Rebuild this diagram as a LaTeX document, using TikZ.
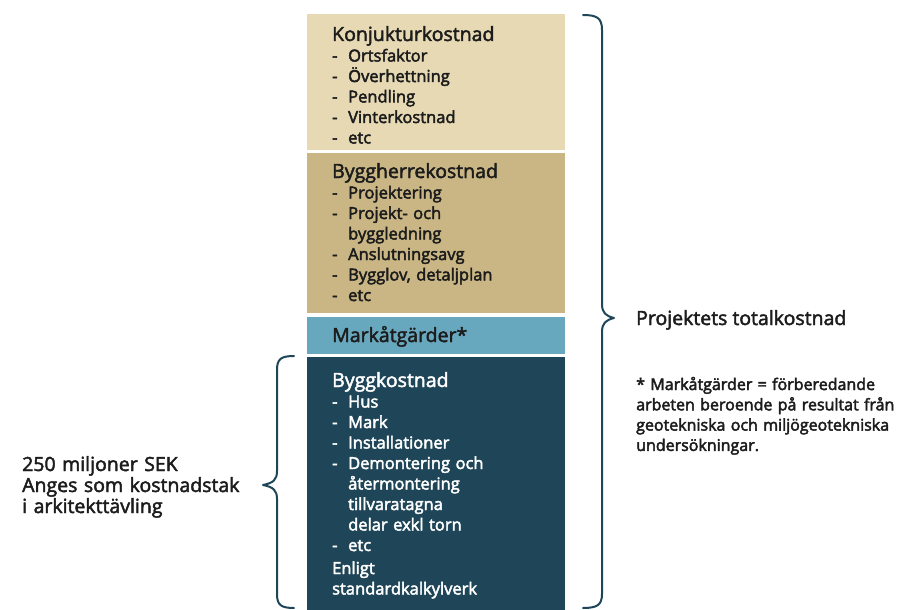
\documentclass[tikz,border=0pt]{standalone}
\usepackage{fontspec}
\setmainfont{Open Sans}
\definecolor{beigeA}{HTML}{E6D9B4}
\definecolor{beigeB}{HTML}{C9B684}
\definecolor{lblue}{HTML}{68A8BE}
\definecolor{dteal}{HTML}{1F4658}
\definecolor{txt}{HTML}{1C1C1C}
\newcommand{\medon}{\special{pdf:literal direct 2 Tr 0.45 w}}
\newcommand{\medoff}{\special{pdf:literal direct 0 Tr}}
\newcommand{\myitem}[1]{\makebox[16pt][l]{-}#1}
\newcommand{\mycont}[1]{\hspace*{16pt}#1}
\newcommand{\hd}[1]{{\fontsize{19.5}{20.5}\selectfont #1}}
\begin{document}
\begin{tikzpicture}[x=1pt,y=-1pt,
  box/.style={draw=none,minimum width=258pt,inner sep=0pt,outer sep=0pt},
  blk/.style={anchor=base west,inner sep=0pt,text width=240pt,align=left,font=\fontsize{16.5}{20.5}\selectfont},
  brace/.style={draw=dteal,line width=2pt,line cap=round,line join=round}]
\useasboundingbox (0,0) rectangle (910,610);
\fill[white] (0,0) rectangle (910,610);
% boxes
\node[box,fill=beigeA,minimum height=136pt] (b1) at (436,82) {};
\node[box,fill=beigeB,minimum height=160pt] (b2) at (436,233) {};
\node[box,fill=lblue,minimum height=37pt] (b3) at (436,335.5) {};
\node[box,fill=dteal,minimum height=253pt] (b4) at (436,483.5) {};
% texts
\node[blk,text=txt] (t1) at (332,41) {\medon\hd{Konjukturkostnad}\\
 \myitem{Ortsfaktor}\\ \myitem{Överhettning}\\ \myitem{Pendling}\\ \myitem{Vinterkostnad}\\ \myitem{etc}\medoff};
\node[blk,text=txt] (t2) at (332,178) {\medon\hd{Byggherrekostnad}\\
 \myitem{Projektering}\\ \myitem{Projekt- och}\\ \mycont{byggledning}\\ \myitem{Anslutningsavg}\\ \myitem{Bygglov, detaljplan}\\ \myitem{etc}\medoff};
\node[blk,text=txt] (t3) at (332,342) {\medon\hd{Markåtgärder*}\medoff};
\node[blk,text=white] (t4) at (332,387) {\medon\hd{Byggkostnad}\\
 \myitem{Hus}\\ \myitem{Mark}\\ \myitem{Installationer}\\ \myitem{Demontering och}\\ \mycont{återmontering}\\ \mycont{tillvaratagna}\\ \mycont{delar exkl torn}\\ \myitem{etc}\\[2.5pt]
 Enligt\\ standardkalkylverk\medoff};
\node[anchor=base west,inner sep=0pt,text=txt,font=\fontsize{19.5}{20}\selectfont] (tot) at (636,325) {\medon Projektets totalkostnad\medoff};
\node[blk,text=txt,text width=290pt,font=\fontsize{16}{20.3}\selectfont] (fn) at (636,390) {\medon * Markåtgärder = förberedande\\ arbeten beroende på resultat från\\ geotekniska och miljögeotekniska\\ undersökningar.\medoff};
\node[blk,text=txt,text width=260pt,font=\fontsize{19.5}{21}\selectfont] (lt) at (22,471) {\medon 250 miljoner SEK\\ Anges som kostnadstak\\ i arkitekttävling\medoff};
% braces
\coordinate (rtop) at (583,15);
\coordinate (rtip) at (614,318);
\coordinate (rbot) at (583,608);
\draw[brace] (rtop) .. controls (597,15) and (602,18) .. (602,30) -- (602,304)
  .. controls (602,313) and (606,316) .. (rtip)
  .. controls (606,320) and (602,323) .. (602,332) -- (602,594)
  .. controls (602,605) and (597,608) .. (rbot);
\coordinate (ltop) at (294,356);
\coordinate (ltip) at (263,485);
\coordinate (lbot) at (294,608);
\draw[brace] (ltop) .. controls (281,356) and (277,359) .. (277,370) -- (277,471)
  .. controls (277,480) and (273,483) .. (ltip)
  .. controls (273,487) and (277,490) .. (277,499) -- (277,594)
  .. controls (277,605) and (281,608) .. (lbot);
\end{tikzpicture}
\end{document}
